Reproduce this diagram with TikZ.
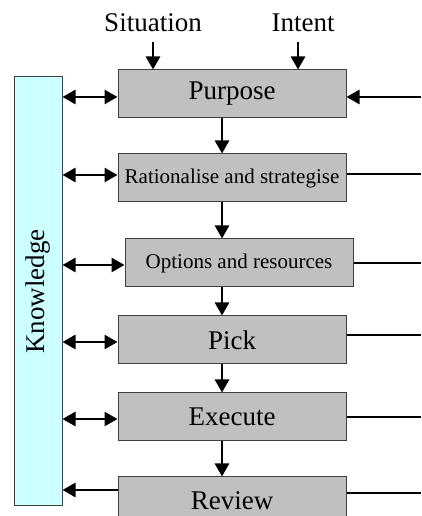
\documentclass[tikz,border=0pt]{standalone}
\usepackage{fontspec}
\setmainfont{Liberation Serif}
\usetikzlibrary{arrows.meta,positioning}

\definecolor{boxgray}{RGB}{192,192,192}
\definecolor{knowcyan}{RGB}{204,255,255}

\begin{document}
\begin{tikzpicture}[x=1pt,y=1pt,>={Triangle[length=13pt,width=14pt]},
    every node/.append style={align=center},
    stage/.style={draw=black!75, line width=1pt, fill=boxgray, minimum width=228pt, minimum height=48pt, inner sep=0pt, font=\fontsize{27}{29}\selectfont},
    small/.style={stage, font=\fontsize{21}{23}\selectfont},
    flow/.style={line width=2.6pt},
    word/.style={anchor=base, inner sep=0pt, font=\fontsize{27}{29}\selectfont}]
    \useasboundingbox (0,0) rectangle (421,516);
    \clip (0,0) rectangle (421,516);

    \node [stage] (purpose) at (232,422)           {Purpose};
    \node [small, below=35pt of purpose] (rational) {Rationalise and strategise};
    \node [small, below=36pt of rational, xshift=7pt] (options) {Options and resources};
    \node [stage, below=28pt of options, xshift=-7pt] (pick)    {Pick};
    \node [stage, below=28pt of pick] (execute)     {Execute};
    \node [stage, below=35pt of execute] (review)   {Review};

    \node [draw=black!75, line width=1pt, fill=knowcyan, rotate=90, minimum width=429pt, minimum height=48pt,
           font=\fontsize{27}{29}\selectfont] (know) at (38,224.5) {Knowledge};

    \node [word] (sit) at (153,484) {Situation};
    \node [word] (int) at (303,484) {Intent};

    \coordinate (spine) at (222,0);
    \coordinate (edge)  at (421,0);

    \draw [flow,->] ([yshift=-10pt]sit.base) -- (sit.base |- purpose.north);
    \draw [flow,->] ([xshift=-5pt,yshift=-10pt]int.base) -- ([xshift=-5pt]int.base |- purpose.north);

    \foreach \a/\b in {purpose/rational,rational/options,options/pick,pick/execute,execute/review}
      \draw [flow,->] (\a.south -| spine) -- (\b.north -| spine);

    \draw [flow,->] ([yshift=-3pt]purpose.east -| edge) -- ([yshift=-3pt]purpose.east);
    \foreach \n/\s in {rational/4,options/0,pick/5,execute/0,review/8}
      \draw [flow] ([yshift=\s pt]\n.east) -- ([yshift=\s pt]\n.east -| edge);

    \foreach \n/\s in {purpose/-3,rational/3,options/-2,pick/-2,execute/-2}
      \draw [flow,<->] ([yshift=\s pt]\n.west -| know.south) -- ([yshift=\s pt]\n.west);
    \draw [flow,->] ([yshift=11pt]review.west) -- ([yshift=11pt]review.west -| know.south);
\end{tikzpicture}
\end{document}
